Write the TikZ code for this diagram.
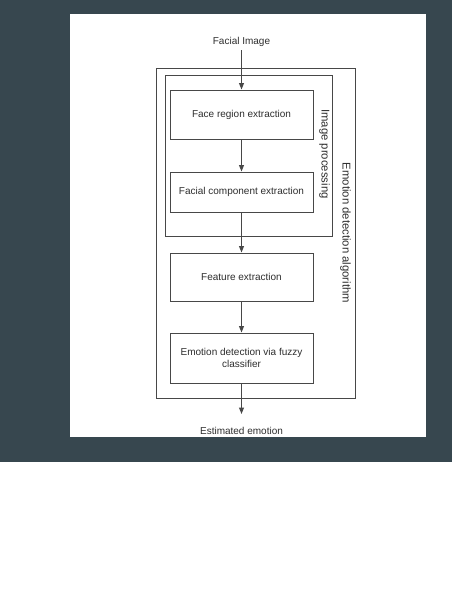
\documentclass[tikz,border=0pt]{standalone}
\usepackage{fontspec}
\setmainfont{Liberation Sans}
\usetikzlibrary{arrows.meta}
\definecolor{bgdark}{HTML}{37474F}
\definecolor{ln}{HTML}{484848}
\definecolor{tx}{HTML}{2E2E2E}
\begin{document}
\begin{tikzpicture}[x=1pt,y=-1pt,
  boxst/.style={draw=ln,line width=1pt,minimum width=143pt,inner sep=2pt,align=center,text=tx,font=\fontsize{10}{12}\selectfont},
  frame/.style={draw=ln,line width=1pt},
  lbl/.style={text=tx,font=\fontsize{10}{12}\selectfont},
  vlbl/.style={text=tx,rotate=-90,font=\fontsize{11.3}{13}\selectfont},
  arr/.style={draw=ln,line width=1pt,-{Triangle[length=6.5pt,width=5pt]}}]
\useasboundingbox (0,0) rectangle (452,611);
\fill[white] (0,0) rectangle (452,611);
\fill[bgdark] (0,0) rectangle (452,462);
\fill[white] (70,14) rectangle (426,437);
% frames
\draw[frame] (156,68) rectangle (355,398);
\draw[frame] (165,75) rectangle (332,236);
% boxes
\node[boxst,minimum height=49pt] (b1) at (241.5,114.5) {Face region extraction};
\node[boxst,minimum height=40pt] (b2) at (241.5,192) {Facial component extraction};
\node[boxst,minimum height=48pt] (b3) at (241.5,277) {Feature extraction};
\node[boxst,minimum height=50pt] (b4) at (241.5,358) {Emotion detection via fuzzy\\classifier};
% labels
\node[lbl] (in) at (241.5,42) {Facial Image};
\node[lbl] (out) at (241.5,431) {Estimated emotion};
\node[vlbl] (ip) at (324.5,154) {Image processing};
\node[vlbl] (eda) at (345.5,233) {Emotion detection algorithm};
\coordinate (outarr) at (241.5,414);
% arrows
\draw[arr] (in) -- (b1);
\draw[arr] (b1) -- (b2);
\draw[arr] (b2) -- (b3);
\draw[arr] (b3) -- (b4);
\draw[arr] (b4) -- (outarr);
\end{tikzpicture}
\end{document}
